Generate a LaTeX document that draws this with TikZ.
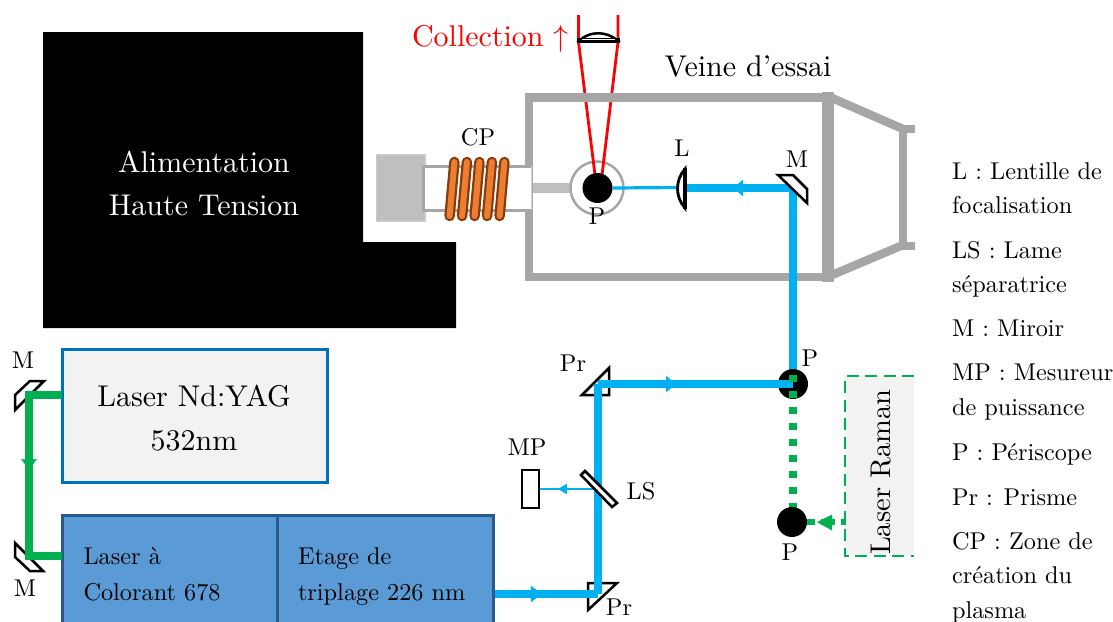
\documentclass[tikz,border=0pt]{standalone}
\usetikzlibrary{arrows.meta,decorations.markings}
\definecolor{beamblue}{HTML}{00B0F0}
\definecolor{beamgreen}{HTML}{00B050}
\definecolor{wallgray}{HTML}{A6A6A6}
\definecolor{lightgray2}{HTML}{BFBFBF}
\definecolor{panel}{HTML}{F2F2F2}
\definecolor{ndblue}{HTML}{0070C0}
\definecolor{dyeblue}{HTML}{5B9BD5}
\definecolor{dyeedge}{HTML}{2A5A8C}
\definecolor{coilfill}{HTML}{ED7D31}
\definecolor{coiledge}{HTML}{843C0C}
\tikzset{
  big/.style={scale=3.0,transform shape,inner sep=0pt,outer sep=0pt},
  small/.style={scale=2.43,transform shape,inner sep=0pt,outer sep=0pt},
  legend/.style={small,anchor=base west},
  wall/.style={draw=wallgray,line width=8.5pt},
  optic/.style={draw=black,fill=white,line width=2.5pt,line join=miter},
  beamB/.style={color=beamblue,line width=8pt},
  beamBthin/.style={color=beamblue,line width=3.2pt},
  beamG/.style={color=beamgreen,line width=7.5pt},
  midtip/.style args={#1 at #2}{postaction={decorate,decoration={markings,mark=at position #2 with {\arrow{Triangle[length=#1,width=16pt]}}}}},
  thintip/.style args={#1 at #2}{postaction={decorate,decoration={markings,mark=at position #2 with {\arrow{Triangle[length=#1,width=10pt]}}}}},
  disc/.style={circle,fill=black,draw=none,minimum size=30pt,inner sep=0pt},
  ramanedge/.style={draw=beamgreen,line width=2.8pt,dash pattern=on 12pt off 6.5pt}
}
\begin{document}
\begin{tikzpicture}[x=1pt,y=-1pt]
\useasboundingbox (0,0) rectangle (1113,621);
% power supply
\fill[black] (43,32) -- (363,32) -- (363,242) -- (456,242) -- (456,328) -- (43,328) -- cycle;
\node[big,text=white] (hvA) at (204,162) {Alimentation};
\node[big,text=white] (hvB) at (204,205) {Haute Tension};
% discharge link and plasma ring
\draw[draw=lightgray2,line width=10.5pt] (531,188) -- (572,188);
\draw[draw=wallgray,fill=white,line width=2.5pt] (597,188) circle (26.5pt);
% collection
\coordinate (colL) at (578.5,42); \coordinate (colR) at (618,42);
\coordinate (focL) at (595,175); \coordinate (focR) at (602,175);
\draw[red,line width=2.8pt] (578.5,15) -- (colL) -- (focL);
\draw[red,line width=2.8pt] (618,15) -- (colR) -- (focR);
\draw[draw=black,fill=white,line width=2.5pt] (580,40) .. controls (590,31) and (606,31) .. (617,40) -- cycle;
\draw[black,line width=5pt] (577,40.5) -- (620,40.5);
\draw[white,line width=.9pt] (582,39.5) -- (615,39.5);
\node[big,text=red,anchor=base west] (coll) at (412,46) {Collection $\uparrow$};
% test section
\draw[wall,line join=miter] (828,97.5) -- (529,97.5) -- (529,277) -- (828,277);
\draw[draw=wallgray,line width=11.5pt] (828,92) -- (828,282);
\draw[draw=wallgray,line width=8.5pt] (832,98) -- (903,129);
\draw[draw=wallgray,line width=8.5pt] (832,275) -- (903,245);
\draw[draw=wallgray,line width=8.5pt] (903,125) -- (903,250);
\draw[draw=wallgray,line width=8.5pt] (900,129) -- (915,129);
\draw[draw=wallgray,line width=8.5pt] (900,246) -- (915,246);
\node[big] (veine) at (748,66) {Veine d’essai};
% source head
\draw[draw=lightgray2!85!white,fill=lightgray2,line width=1.5pt] (376.5,155) rectangle (425,221);
\fill[white] (423,166) rectangle (531,210);
\draw[draw=wallgray,line width=3pt] (531,166) -- (423,166) -- (423,210) -- (531,210);
\draw[draw=wallgray!50!white,line width=1pt] (531,166) -- (531,210);
\foreach \cx in {452,464.5,477,489.5,502}{
  \draw[coiledge,line width=10.5pt,line cap=round] (\cx+2.4,162) -- (\cx-2.4,216);
  \draw[coilfill,line width=6pt,line cap=round] (\cx+2.4,162) -- (\cx-2.4,216);
}
\node[small] (cp) at (478,137) {CP};
% discs
\node[disc] (plasma) at (597.5,188) {};
\node[small] (pPlasma) at (597,216) {P};
% top optical path
\coordinate (turnM) at (793,188);
\coordinate (lensIn) at (684,188);
\coordinate (periTop) at (793,384);
\coordinate (prTop) at (598,384);
\coordinate (prBot) at (598,594);
\coordinate (dyeOut) at (494,594);
\coordinate (lsCentre) at (598,489);
\coordinate (mpFace) at (539,489);
\draw[beamBthin] (plasma.east) -- (680,187.5);
\draw[beamB,midtip=10pt at 0.55] (turnM) -- (lensIn);
\draw[beamB] (turnM) -- (periTop);
\draw[optic] (778,175) -- (793,175) -- (807,189) -- (807,203) -- cycle;
\node[small] (mTop) at (797,159) {M};
% lens L
\draw[draw=black,fill=white,line width=2.8pt] (685,169) .. controls (675,180) and (675,197) .. (685,208) -- cycle;
\draw[black,line width=4.5pt] (685,168) -- (685,209);
\node[small] (lLab) at (682,148) {L};
% prisms
\draw[optic] (582,395) -- (609,368) -- (609,395) -- cycle;
\draw[optic] (588,583) -- (617,583) -- (588,610) -- cycle;
\node[small] (prA) at (573,363) {Pr};
\node[small] (prB) at (619,607) {Pr};
% lower blue path
\node[disc] (periA) at (793,384) {};
\draw[beamB,midtip=10pt at 0.40] (prTop) -- (periA.center);
\draw[beamB] (prBot) -- (prTop);
\draw[beamB,midtip=11pt at 0.46] (dyeOut) -- (prBot);
\draw[color=beamblue,line width=2.6pt,thintip=9pt at 0.68] (lsCentre) -- (mpFace);
\draw[optic] (581,475) -- (585,471) -- (617,503) -- (612,507) -- cycle;
\draw[optic] (522,470) rectangle (539,508);
\node[small] (mp) at (527,447) {MP};
\node[small] (ls) at (641,491) {LS};
% periscopes and green dashed path
\coordinate (greenEnd) at (793,522);
\draw[color=beamgreen,line width=7.5pt,dash pattern=on 7.5pt off 8.5pt] (793,374.5) -- (greenEnd);
\node[disc] (periB) at (792,522) {};
\node[small] (pA) at (810,358) {P};
\node[small] (pB) at (790,552) {P};
% Raman laser
\fill[panel] (845,376) rectangle (914,556);
\draw[ramanedge] (914,376) -- (845,376) -- (845,556) -- (914,556);
\node[scale=2.85,transform shape,rotate=90,inner sep=0pt] (raman) at (881,472) {Laser Raman};
\coordinate (ramanOut) at (846,522);
\draw[color=beamgreen,line width=6.5pt,dash pattern=on 8pt off 6pt on 14pt off 6pt on 9pt off 40pt] (periB.east) -- (ramanOut);
\fill[beamgreen] (817,522) -- (832,514.5) -- (832,530.5) -- cycle;
% left lasers
\draw[draw=ndblue,fill=panel,line width=3pt] (62,349.5) rectangle (327,482);
\node[big] (ndA) at (194,396) {Laser Nd:YAG};
\node[big] (ndB) at (194,441) {532nm};
\draw[draw=dyeedge,fill=dyeblue,line width=3pt] (62,515) rectangle (277,630);
\draw[draw=dyeedge,fill=dyeblue,line width=3pt] (277,515) rectangle (493.5,630);
\node[small,anchor=base west] (dyeA) at (83.5,564) {Laser à};
\node[small,anchor=base west] (dyeB) at (83.5,600) {Colorant 678};
\node[small,anchor=base west] (triA) at (298,564) {Etage de};
\node[small,anchor=base west] (triB) at (298,600) {triplage 226 nm};
% left mirrors and green beam
\draw[optic] (15,410) -- (15,395) -- (30,381) -- (44,381) -- cycle;
\draw[optic] (15,543) -- (43,571) -- (30,571) -- (15,557) -- cycle;
\node[small] (mA) at (23,360) {M};
\node[small] (mB) at (25,588) {M};
\coordinate (ndOut) at (62,395);
\coordinate (gTop) at (29,395);
\coordinate (gBot) at (29,556);
\coordinate (dyeIn) at (62,556);
\draw[beamG,line join=miter] (ndOut) -- (gTop) -- (gBot) -- (dyeIn);
\path[color=beamgreen,midtip=10pt at 0.46] (gTop) -- (gBot);
% legend
\foreach \i/\yy/\t in {1/179/{L : Lentille de},2/213/{focalisation},3/258/{LS : Lame},4/292/{séparatrice},5/336/{M : Miroir},6/380/{MP : Mesureur},7/415/{de puissance},8/460/{P : Périscope},9/505/{Pr : Prisme},10/549/{CP : Zone de},11/583/{création du},12/618/{plasma}}{
  \node[legend] (leg\i) at (952,\yy) {\t};
}
\end{tikzpicture}
\end{document}
